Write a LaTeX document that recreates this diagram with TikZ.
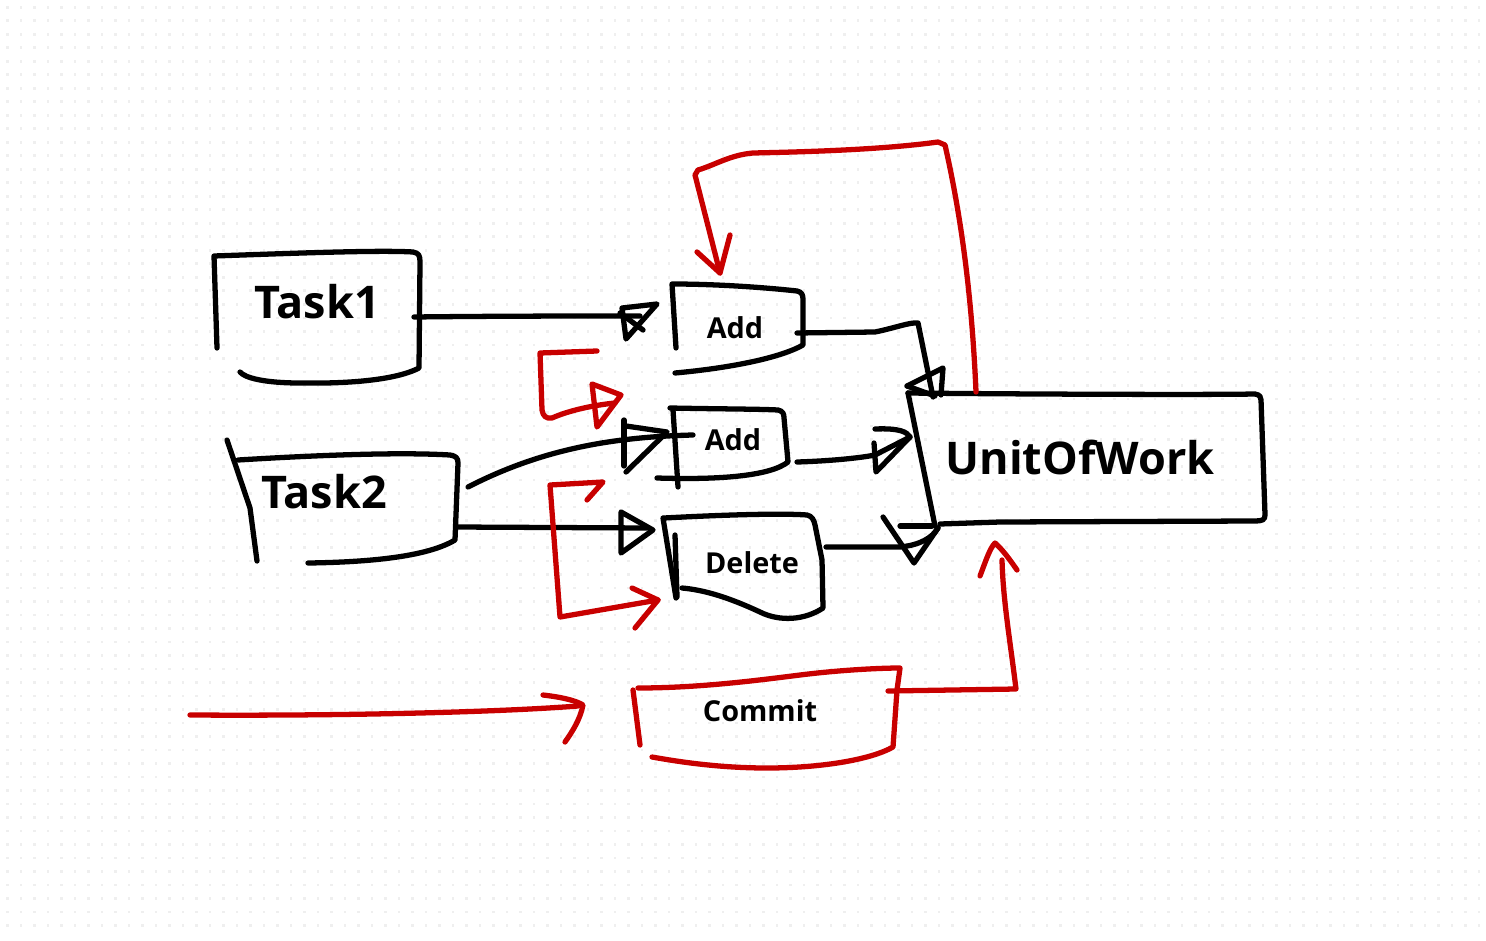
\documentclass[tikz,border=0pt]{standalone}
\usepackage{fontspec}
\setmainfont{Open Sans}
\usepackage{tikz}

\definecolor{sketchred}{HTML}{C80000}
\definecolor{dotgray}{HTML}{EFEFEF}

\tikzset{
    ink/.style={line width=1.5pt, line cap=round, line join=round},
    redink/.style={ink, draw=sketchred},
    bigtext/.style={font=\bfseries\fontsize{12.8}{15}\selectfont},
    smalltext/.style={font=\bfseries\fontsize{8.2}{10}\selectfont}
}

\begin{document}
\begin{tikzpicture}[x=0.01cm, y=-0.01cm]
    \useasboundingbox (0,0) rectangle (1486,940);

    \foreach \x in {0,...,109} \foreach \y in {0,...,68}
        \fill[dotgray] (6+\x*13.5,6+\y*13.5) rectangle ++(2.6,2.6);

    \node[bigtext] (task1) at (317,302) {Task1};
    \node[bigtext] (task2) at (324,492) {Task2};
    \node[smalltext] (add1) at (735,328) {Add};
    \node[smalltext] (add2) at (733,440) {Add};
    \node[smalltext] (delete) at (752,563) {Delete};
    \node[bigtext] (uow) at (1080,457) {UnitOfWork};
    \node[smalltext] (commit) at (760,711) {Commit};

    \coordinate (task1-out) at (414,317);
    \coordinate (task2-up) at (468,487);
    \coordinate (task2-out) at (456,527);
    \coordinate (add1-in) at (640,316);
    \coordinate (add1-out) at (797,333);
    \coordinate (add1-top) at (720,273);
    \coordinate (add2-in) at (693,435);
    \coordinate (add2-out) at (797,462);
    \coordinate (add2-loop) at (615,403);
    \coordinate (delete-in) at (647,528);
    \coordinate (delete-out) at (826,547);
    \coordinate (delete-loop) at (658,600);
    \coordinate (uow-top) at (933,397);
    \coordinate (uow-left) at (910,437);
    \coordinate (uow-low) at (938,528);
    \coordinate (uow-red) at (976,392);
    \coordinate (uow-under) at (1002,560);
    \coordinate (commit-out) at (888,691);
    \coordinate (start) at (190,715);
    \coordinate (commit-in) at (578,706);

    % boxes
    \draw[ink] (217,348) -- (214,256) .. controls (300,253) and (380,250) .. (413,252)
        .. controls (419,253) and (420,256) .. (420,262) -- (419,368)
        .. controls (400,378) and (360,384) .. (300,383) .. controls (265,383) and (245,378) .. (240,372);
    \draw[ink] (238,460) .. controls (320,455) and (400,452) .. (450,455)
        .. controls (456,456) and (458,458) .. (458,463) -- (455,540)
        .. controls (430,555) and (380,562) .. (308,563);
    \draw[ink] (227,440) -- (250,508) -- (257,561);
    \draw[ink] (676,348) -- (672,284) .. controls (720,284) and (770,288) .. (797,291)
        .. controls (802,292) and (803,295) .. (803,300) -- (803,345)
        .. controls (780,358) and (730,368) .. (675,373);
    \draw[ink] (670,408) .. controls (720,409) and (760,409) .. (778,410)
        .. controls (783,411) and (784,414) .. (784,418) -- (788,462)
        .. controls (770,476) and (720,480) .. (657,478);
    \draw[ink] (673,410) -- (678,487);
    \draw[ink] (664,518) .. controls (720,515) and (780,513) .. (807,515)
        .. controls (812,516) and (814,520) .. (815,525) -- (822,560) -- (823,608)
        .. controls (805,620) and (780,622) .. (760,612) .. controls (730,598) and (705,590) .. (682,588);
    \draw[ink] (663,518) -- (676,598);
    \draw[ink] (675,535) -- (677,597);
    \draw[ink] (908,393) .. controls (1000,394) and (1200,395) .. (1255,394)
        .. controls (1260,395) and (1261,397) .. (1261,400) -- (1265,515)
        .. controls (1265,520) and (1262,521) .. (1255,521) -- (1000,522) -- (940,524);
    \draw[ink] (908,393) -- (935,526);
    \draw[redink] (638,688) .. controls (700,688) and (760,680) .. (800,675)
        .. controls (840,670) and (880,668) .. (900,668) -- (897,690) -- (893,747)
        .. controls (870,760) and (820,768) .. (767,768) .. controls (720,768) and (680,762) .. (652,757);
    \draw[redink] (633,690) -- (640,745);

    % black connectors
    \draw[ink] (task1-out) .. controls (500,316) and (580,316) .. (add1-in);
    \draw[ink] (622,308) -- (657,304) -- (626,339) -- cycle;
    \draw[ink] (620,313) -- (643,330);
    \draw[ink] (task2-up) .. controls (540,450) and (610,437) .. (add2-in);
    \draw[ink] (624,420) -- (624,466);
    \draw[ink] (626,426) -- (667,432) -- (626,472);
    \draw[ink] (task2-out) -- (delete-in);
    \draw[ink] (621,512) -- (621,553) -- (653,530) -- cycle;
    \draw[ink] (add1-out) -- (875,332) .. controls (895,328) and (910,322) .. (918,323) -- (uow-top);
    \draw[ink] (907,386) -- (943,368) -- (941,395);
    \draw[ink] (907,386) -- (935,396);
    \draw[ink] (add2-out) .. controls (830,461) and (860,458) .. (875,455) -- (uow-left);
    \draw[ink] (875,429) .. controls (900,428) and (907,432) .. (uow-left) -- (876,472) -- (874,443);
    \draw[ink] (delete-out) -- (900,547) .. controls (920,545) and (932,538) .. (uow-low);
    \draw[ink] (883,517) -- (914,563) -- (uow-low);
    \draw[ink] (900,526) -- (932,526);

    % red connectors
    \draw[redink] (uow-red) .. controls (972,300) and (962,220) .. (945,145) -- (938,142)
        .. controls (880,150) and (800,152) .. (753,153) .. controls (730,155) and (715,165) .. (698,170)
        -- (695,175) -- (add1-top);
    \draw[redink] (697,252) -- (add1-top) -- (730,235);
    \draw[redink] (597,351) -- (540,353) -- (542,410) .. controls (543,416) and (546,419) .. (552,418)
        .. controls (570,410) and (595,405) .. (add2-loop);
    \draw[redink] (592,384) -- (621,395) -- (597,427) -- cycle;
    \draw[redink] (587,500) -- (603,482) -- (550,485) -- (560,617) -- (delete-loop);
    \draw[redink] (632,588) -- (delete-loop) -- (635,628);
    \draw[redink] (start) .. controls (350,716) and (500,712) .. (commit-in);
    \draw[redink] (543,695) .. controls (560,697) and (575,700) .. (583,705)
        .. controls (580,720) and (572,732) .. (565,742);
    \draw[redink] (commit-out) -- (1016,689) .. controls (1010,640) and (1003,600) .. (uow-under);
    \draw[redink] (980,576) .. controls (986,560) and (990,548) .. (995,543)
        .. controls (1003,550) and (1010,560) .. (1017,570);
\end{tikzpicture}
\end{document}
